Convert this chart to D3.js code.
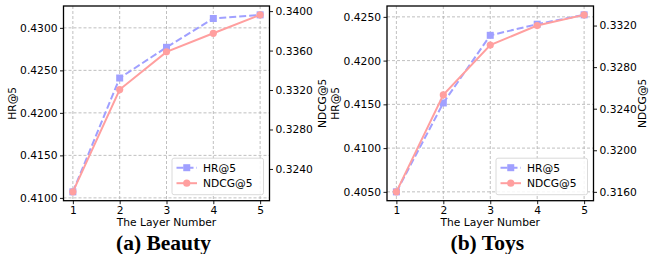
<!DOCTYPE html>
<html><head><meta charset="utf-8">
<script src="https://cdn.jsdelivr.net/npm/d3@7"></script>
<style>body{margin:0;background:#fff}svg{display:block}</style>
</head><body>
<svg id="chart" width="650" height="254"></svg>
<script>
const layers = [1, 2, 3, 4, 5];
const beautyHR = [0.41071, 0.42410, 0.42771, 0.43110, 0.43153];
const beautyNDCG = [0.32168, 0.33205, 0.33587, 0.33775, 0.33962];
const toysHR = [0.40500, 0.41516, 0.42289, 0.42416, 0.42523];
const toysNDCG = [0.31600, 0.32533, 0.33012, 0.33200, 0.33303];
const beautyHRTicks = [0.4100, 0.4150, 0.4200, 0.4250, 0.4300];
const beautyNDCGTicks = [0.3240, 0.3280, 0.3320, 0.3360, 0.3400];
const toysHRTicks = [0.4050, 0.4100, 0.4150, 0.4200, 0.4250];
const toysNDCGTicks = [0.3160, 0.3200, 0.3240, 0.3280, 0.3320];
const titles = ["(a) Beauty", "(b) Toys"];
const seriesNames = ["HR@5", "NDCG@5"];

const HRC = "#a0a0ff", NDC = "#ff9f9f";
const svg = d3.select("#chart");
const fs = 10.7;
const font = "DejaVu Sans, sans-serif";

function pad(vals){
  const mn = d3.min(vals), mx = d3.max(vals), r = mx - mn;
  return [mn - 0.05*r, mx + 0.05*r];
}

function panel(cfg){
  const {left, right, top, bottom, hr, ndcg, hrTicks, ndcgTicks, title, lOff, rOff} = cfg;
  const g = svg.append("g");
  const x = d3.scaleLinear().domain([0.8, 5.2]).range([left, right]);
  const yL = d3.scaleLinear().domain(pad(hr)).range([bottom, top]);
  const yR = d3.scaleLinear().domain(pad(ndcg)).range([bottom, top]);

  // grid
  const grid = g.append("g").attr("stroke", "#b0b0b0").attr("stroke-width", 0.8).attr("stroke-dasharray", "3,2");
  layers.forEach(v => grid.append("line").attr("x1", x(v)).attr("x2", x(v)).attr("y1", top).attr("y2", bottom));
  hrTicks.forEach(v => grid.append("line").attr("x1", left).attr("x2", right).attr("y1", yL(v)).attr("y2", yL(v)));

  // axes
  const ax = g.append("g").attr("transform", `translate(0,${bottom})`)
    .call(d3.axisBottom(x).tickValues(layers).tickFormat(d3.format("d")).tickSize(3.5).tickPadding(2));
  const al = g.append("g").attr("transform", `translate(${left},0)`)
    .call(d3.axisLeft(yL).tickValues(hrTicks).tickFormat(d3.format(".4f")).tickSize(3.5).tickPadding(2.5));
  const ar = g.append("g").attr("transform", `translate(${right},0)`)
    .call(d3.axisRight(yR).tickValues(ndcgTicks).tickFormat(d3.format(".4f")).tickSize(3.5).tickPadding(2.5));
  [ax, al, ar].forEach(a => {
    a.select(".domain").remove();
    a.selectAll("text").attr("font-family", font).attr("font-size", fs).attr("fill", "#000");
    a.selectAll("line").attr("stroke", "#000").attr("stroke-width", 0.9);
  });

  // lines
  const lineL = d3.line().x((d,i) => x(layers[i])).y(d => yL(d));
  const lineR = d3.line().x((d,i) => x(layers[i])).y(d => yR(d));
  g.append("path").datum(hr).attr("d", lineL).attr("fill", "none").attr("stroke", HRC)
    .attr("stroke-width", 2).attr("stroke-dasharray", "7,3");
  g.selectAll(".sq").data(hr).enter().append("rect")
    .attr("x", (d,i) => x(layers[i]) - 3.5).attr("y", d => yL(d) - 3.5)
    .attr("width", 7).attr("height", 7).attr("fill", HRC);
  g.append("path").datum(ndcg).attr("d", lineR).attr("fill", "none").attr("stroke", NDC).attr("stroke-width", 2);
  g.selectAll(".ci").data(ndcg).enter().append("circle")
    .attr("cx", (d,i) => x(layers[i])).attr("cy", d => yR(d)).attr("r", 3.6).attr("fill", NDC);

  // frame
  g.append("rect").attr("x", left).attr("y", top).attr("width", right-left).attr("height", bottom-top)
    .attr("fill", "none").attr("stroke", "#000").attr("stroke-width", 1.3);

  // labels
  g.append("text").attr("x", (left+right)/2).attr("y", 226).attr("text-anchor", "middle")
    .attr("font-family", font).attr("font-size", fs).text("The Layer Number");
  g.append("text").attr("transform", `translate(${left-lOff},${(top+bottom)/2}) rotate(-90)`)
    .attr("text-anchor", "middle").attr("font-family", font).attr("font-size", fs).text(seriesNames[0]);
  g.append("text").attr("transform", `translate(${right+rOff},${(top+bottom)/2}) rotate(-90)`)
    .attr("text-anchor", "middle").attr("font-family", font).attr("font-size", fs).text(seriesNames[1]);
  g.append("text").attr("x", (left+right)/2 - 3).attr("y", 249.5).attr("text-anchor", "middle")
    .attr("font-family", "Liberation Serif, serif").attr("font-weight", "bold").attr("font-size", 21.5).text(title);

  // legend
  const lx = right - 97.5, ly = bottom - 42.5;
  const lg = g.append("g");
  lg.append("rect").attr("x", lx).attr("y", ly).attr("width", 91.5).attr("height", 36.5).attr("rx", 2)
    .attr("fill", "#fff").attr("fill-opacity", 0.85).attr("stroke", "#d0d0d0").attr("stroke-width", 0.8);
  const e1 = ly + 9.5, e2 = ly + 25;
  lg.append("line").attr("x1", lx+4.5).attr("x2", lx+25).attr("y1", e1).attr("y2", e1)
    .attr("stroke", HRC).attr("stroke-width", 2).attr("stroke-dasharray", "7,3");
  lg.append("rect").attr("x", lx+14.75-3.5).attr("y", e1-3.5).attr("width", 7).attr("height", 7).attr("fill", HRC);
  lg.append("line").attr("x1", lx+4.5).attr("x2", lx+25).attr("y1", e2).attr("y2", e2)
    .attr("stroke", NDC).attr("stroke-width", 2);
  lg.append("circle").attr("cx", lx+14.75).attr("cy", e2).attr("r", 3.6).attr("fill", NDC);
  lg.append("text").attr("x", lx+31).attr("y", e1+3.8).attr("font-family", font).attr("font-size", fs).text(seriesNames[0]);
  lg.append("text").attr("x", lx+31).attr("y", e2+3.8).attr("font-family", font).attr("font-size", fs).text(seriesNames[1]);
}

panel({left: 63.5, right: 269.5, top: 6, bottom: 200.7, hr: beautyHR, ndcg: beautyNDCG,
  hrTicks: beautyHRTicks, ndcgTicks: beautyNDCGTicks, title: titles[0], lOff: 47.5, rOff: 56.5});
panel({left: 387, right: 593.5, top: 6, bottom: 200.7, hr: toysHR, ndcg: toysNDCG,
  hrTicks: toysHRTicks, ndcgTicks: toysNDCGTicks, title: titles[1], lOff: 48.5, rOff: 52});
</script>
</body></html>
